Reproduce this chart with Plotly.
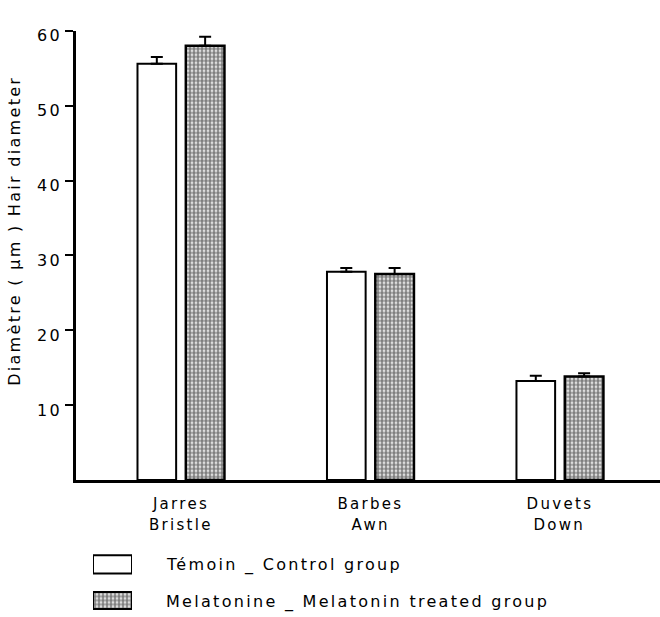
import plotly.graph_objects as go

# ---- data ----
categories = ["Jarres", "Barbes", "Duvets"]
categories_en = ["Bristle", "Awn", "Down"]
control = [55.6, 27.8, 13.2]
control_err = [0.9, 0.5, 0.7]
melatonin = [58.0, 27.5, 13.8]
melatonin_err = [1.2, 0.8, 0.45]
y_ticks = [10, 20, 30, 40, 50, 60]
legend_labels = ["Témoin _ Control group", "Melatonine _ Melatonin treated group"]
y_title = "Diamètre ( μm ) Hair diameter"

W, H = 660, 617
FONT = "DejaVu Sans"


def px_x(p):
    return p / W


def px_y(p):
    return (H - p) / H


pattern = dict(shape=".", size=4, solidity=0.7, fgcolor="black", bgcolor="white")

fig = go.Figure()
fig.add_trace(go.Bar(
    x=categories, y=control, name=legend_labels[0],
    marker=dict(color="white", line=dict(color="black", width=2)),
    error_y=dict(type="data", array=control_err, arrayminus=[0] * len(control),
                 symmetric=False, color="black", thickness=2, width=6),
    showlegend=False,
))
fig.add_trace(go.Bar(
    x=categories, y=melatonin, name=legend_labels[1],
    marker=dict(color="white", pattern=pattern, line=dict(color="black", width=2.5)),
    error_y=dict(type="data", array=melatonin_err, arrayminus=[0] * len(melatonin),
                 symmetric=False, color="black", thickness=2, width=6),
    showlegend=False,
))

# legend keys drawn on a small auxiliary axis pair
fig.add_trace(go.Bar(
    x=[1], y=[1], orientation="h", width=0.5, xaxis="x2", yaxis="y2",
    marker=dict(color="white", line=dict(color="black", width=2)), showlegend=False,
    hoverinfo="skip",
))
fig.add_trace(go.Bar(
    x=[1], y=[0], orientation="h", width=0.47, xaxis="x2", yaxis="y2",
    marker=dict(color="white", pattern=pattern, line=dict(color="black", width=2)),
    showlegend=False, hoverinfo="skip",
))

annotations = []
for c, e in zip(categories, categories_en):
    annotations.append(dict(x=c, xref="x", y=px_y(524), yref="paper", text=e,
                            showarrow=False, yanchor="middle",
                            font=dict(family=FONT, size=15, color="black")))
for i, lab in enumerate(legend_labels):
    annotations.append(dict(x=px_x(164), xref="paper", y=px_y(565 + 37 * i), yref="paper",
                            text=lab, showarrow=False, xanchor="left", yanchor="middle",
                            align="left",
                            font=dict(family=FONT, size=16, color="black")))
annotations.append(dict(x=px_x(15), xref="paper", y=px_y(228), yref="paper", text=y_title,
                        textangle=-90, showarrow=False, xanchor="center", yanchor="middle",
                        font=dict(family=FONT, size=16, color="black")))

fig.update_layout(
    width=W, height=H,
    margin=dict(l=0, r=0, t=0, b=0),
    plot_bgcolor="white", paper_bgcolor="white",
    barmode="group", bargap=0.49, bargroupgap=0.2,
    font=dict(family=FONT, color="black"),
    xaxis=dict(
        domain=[px_x(76), 1], range=[-0.554, 2.528], type="category",
        showline=True, linecolor="black", linewidth=2.5, ticks="",
        showgrid=False, zeroline=False, tickfont=dict(family=FONT, size=15),
        ticklabelstandoff=8,
    ),
    yaxis=dict(
        domain=[px_y(479), px_y(27)], range=[0, 60],
        showline=True, linecolor="black", linewidth=2.5,
        ticks="outside", ticklen=8, tickwidth=2, tickcolor="black",
        tickvals=y_ticks, ticktext=[str(v) for v in y_ticks],
        showgrid=False, zeroline=False, tickfont=dict(family=FONT, size=16),
        ticklabelshift=5,
    ),
    xaxis2=dict(domain=[px_x(93), px_x(132)], range=[0, 1], visible=False,
                anchor="y2", fixedrange=True),
    yaxis2=dict(domain=[px_y(614), px_y(550)], range=[-0.37, 1.384], visible=False,
                anchor="x2", fixedrange=True),
    annotations=annotations,
)

post = """
document.body.style.margin = '0';
document.body.style.padding = '0';
document.querySelectorAll('.main-svg text').forEach(function(t){ t.style.letterSpacing = '2.3px'; });
"""

fig.write_html("out.html", post_script=post, config={"displayModeBar": False})
